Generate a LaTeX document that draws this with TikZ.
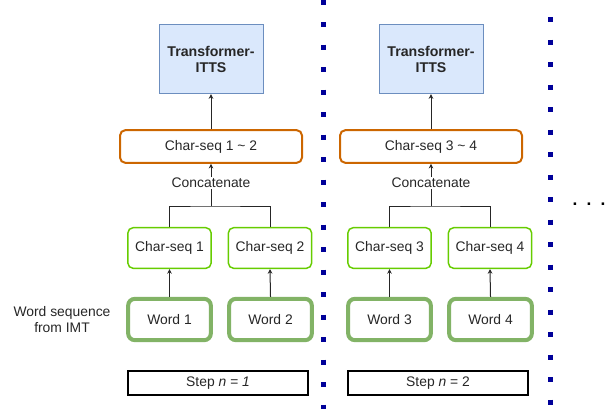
\documentclass[tikz,border=0pt]{standalone}
\usepackage{fontspec}
\setmainfont{Liberation Sans}
\usetikzlibrary{arrows.meta}
\definecolor{tfill}{HTML}{DAE8FC}
\definecolor{tdraw}{HTML}{6C8EBF}
\definecolor{odraw}{HTML}{CC6600}
\definecolor{cdraw}{HTML}{66CC00}
\definecolor{wdraw}{HTML}{82B366}
\definecolor{dotblue}{HTML}{000099}
\tikzset{
  txt/.style={font=\fontsize{10.4pt}{12.5pt}\selectfont, text=black!85},
  tbox/.style={txt, draw=tdraw, fill=tfill, line width=0.75pt, minimum width=78pt, minimum height=52pt, align=center, inner sep=0pt, font=\bfseries\fontsize{10.6pt}{12pt}\selectfont},
  obox/.style={txt, draw=odraw, line width=1.5pt, rounded corners=4pt, minimum width=136.5pt, minimum height=24.5pt, inner sep=0pt},
  cbox/.style={txt, draw=cdraw, line width=1.1pt, rounded corners=4pt, minimum width=62.5pt, minimum height=30.5pt, inner sep=0pt},
  wbox/.style={txt, draw=wdraw, line width=3pt, rounded corners=5pt, minimum width=62pt, minimum height=31pt, inner sep=0pt},
  sbox/.style={txt, draw=black, line width=1.5pt, minimum width=135pt, minimum height=18pt, inner sep=0pt},
  conn/.style={draw=black!85, line width=0.75pt},
  arr/.style={conn, -{Stealth[length=3.5pt,width=3.5pt]}},
  dotline/.style={draw=dotblue, line width=3.75pt, dash pattern=on 3.75pt off 13.125pt}
}
\begin{document}
\begin{tikzpicture}[x=0.75pt,y=-0.75pt]
\useasboundingbox (0,0) rectangle (605,408);
\path[clip] (0,0) rectangle (605,408);
% dotted separators
\draw[dotline] (323,-0.5) -- (323,420);
\draw[dotline] (550,17-22.5) -- (550,420);
% groups
\foreach \g/\dx/\a/\b/\stp in {1/0/1/2/{\textit{n = 1}}, 2/220/3/4/{\textit{n} = 2}}{
  \node[tbox] (t\g) at (211+\dx,59) {Transformer-\\ITTS};
  \node[obox] (o\g) at (211+\dx,146.5) {Char-seq \a\ \textasciitilde\ \b};
  \node[cbox] (ca\g) at (169.5+\dx,248) {Char-seq \a};
  \node[cbox] (cb\g) at (270+\dx,248) {Char-seq \b};
  \node[wbox] (wa\g) at (169.5+\dx,319.5) {Word \a};
  \node[wbox] (wb\g) at (270.5+\dx,319.5) {Word \b};
  \node[sbox] (s\g) at (218+\dx,383) {Step \stp};
  \coordinate (j\g) at (211+\dx,206);
  \draw[arr] (o\g.north) -- (t\g.south);
  \draw[arr] (wa\g.north) -- (ca\g.south);
  \draw[arr] (wb\g.north) -- (cb\g.south);
  \draw[conn] (ca\g.north) |- (j\g) -| (cb\g.north);
  \draw[arr] (j\g) -- (o\g.south);
  \node[txt, fill=white, inner sep=1pt] (k\g) at (211+\dx,183) {Concatenate};
}
\node[txt, align=center] (ws) at (62,319.5) {Word sequence\\from IMT};
\node[anchor=base, font=\bfseries\fontsize{13pt}{15pt}\selectfont] (dots) at (589,205) {.\hspace{6.9pt}.\hspace{6.9pt}.};
\end{tikzpicture}
\end{document}
